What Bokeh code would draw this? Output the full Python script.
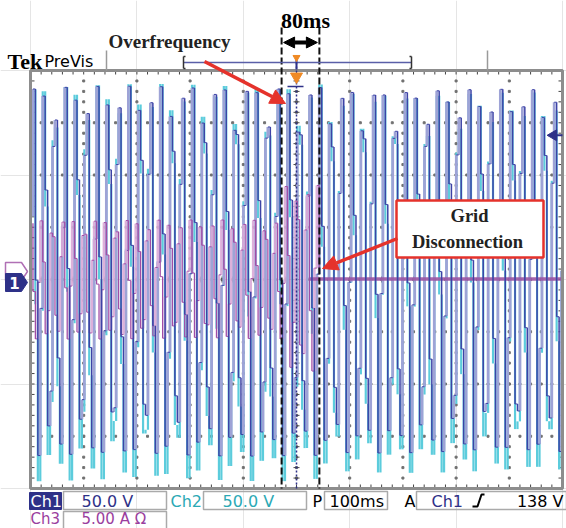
import numpy as np
from bokeh.plotting import figure
from bokeh.models import Range1d, Arrow, NormalHead
from bokeh.core.properties import value
from bokeh.embed import file_html
from bokeh.resources import INLINE

# ---------------- data ----------------
time_div_ms = 100              # 100 ms / div, 10 divisions
n_xdiv = 10
n_ydiv = 8
ch1_scale_v = 50.0             # V / div
ch2_scale_v = 50.0
ch3_scale_a = 5.0              # A / div
trigger_ms = 500
trigger_level_v = 138
overfreq_start_ms = 472
disconnect_ms = 543
segment_edges_ms = [0, 472, 543, 1000]
ch1_freq_hz = [50.0, 50.6, 50.0]
ch2_freq_hz = [50.0, 50.6, 50.0]
ch1_peak_v = [177, 177, 174]
ch1_offset_v = 8
ch2_peak_v = [190, 190, 182]
ch2_offset_v = -3
ch3_freq_hz = [50.0, 50.6, 50.0]
ch3_peak_a = [5.7, 9.0, 0.0]
ch3_offset_a = [0.0, 0.0, 0.05]
display_sample_ms = 4.6

ch_names = ["Ch1", "Ch2", "Ch3"]
ch_readouts = ["50.0 V", "50.0 V", "5.00 A \u03a9"]
timebase_label = "100ms"
trig_source = "Ch1"
trig_level_label = "138 V"

# ---------------- layout helpers (pixel -> data) ----------------
W, H = 566, 528
PL, PR, PT, PB = 30, 562, 70, 488
MS_PER_PX = n_xdiv * time_div_ms / (PR - PL)
DIV_PER_PX = n_ydiv / (PB - PT)
YC = (PT + PB) / 2


def X(px):
    return (px - PL) * MS_PER_PX


def Y(py):
    return (YC - py) * DIV_PER_PX


p = figure(width=W, height=H, x_range=Range1d(X(0), X(W)), y_range=Range1d(Y(H), Y(0)),
           output_backend="svg", toolbar_location=None, min_border=0,
           x_axis_location=None, y_axis_location=None)
p.outline_line_color = None
p.background_fill_color = "white"
p.border_fill_color = "white"
p.extra_y_ranges = {
    "v": Range1d(Y(H) * ch1_scale_v, Y(0) * ch1_scale_v),
    "v2": Range1d(Y(H) * ch2_scale_v, Y(0) * ch2_scale_v),
    "a": Range1d(Y(H) * ch3_scale_a, Y(0) * ch3_scale_a),
}

NAVY = "#2E3188"
DARKBLUE = "#3D43A6"
LIGHTBLUE = "#9EA3D6"
CYAN = "#5CCCDC"
MAG = "#A24DA6"
PINK = "#D9A8D7"
RED = "#E5322B"

T0 = 0
T1 = n_xdiv * time_div_ms

# ---------------- graticule ----------------
gx, gy = [], []
for k in range(1, n_xdiv):
    for j in np.arange(-n_ydiv / 2, n_ydiv / 2 + 0.01, 0.2):
        gx.append(k * time_div_ms)
        gy.append(j)
for j in range(-n_ydiv // 2 + 1, n_ydiv // 2):
    for k in np.arange(0, T1 + 0.01, time_div_ms / 5):
        gx.append(k)
        gy.append(j)
p.scatter(gx, gy, size=2, color="#707070", marker="square")

tick_px = 3
cx = T1 / 2
ys = np.arange(-n_ydiv / 2, n_ydiv / 2 + 0.01, 0.2)
xs = np.arange(0, T1 + 0.01, time_div_ms / 5)
p.segment(x0=[cx - tick_px * MS_PER_PX] * len(ys), x1=[cx + tick_px * MS_PER_PX] * len(ys),
          y0=list(ys), y1=list(ys), color="#444", line_width=1)
p.segment(x0=list(xs), x1=list(xs), y0=[-tick_px * DIV_PER_PX] * len(xs),
          y1=[tick_px * DIV_PER_PX] * len(xs), color="#444", line_width=1)
p.segment(x0=list(xs), x1=list(xs), y0=[n_ydiv / 2] * len(xs),
          y1=[n_ydiv / 2 - 4 * DIV_PER_PX] * len(xs), color="#444", line_width=1)
p.segment(x0=list(xs), x1=list(xs), y0=[-n_ydiv / 2] * len(xs),
          y1=[-n_ydiv / 2 + 4 * DIV_PER_PX] * len(xs), color="#444", line_width=1)
p.segment(x0=[0] * len(ys), x1=[4 * MS_PER_PX] * len(ys), y0=list(ys), y1=list(ys),
          color="#444", line_width=1)
p.segment(x0=[T1] * len(ys), x1=[T1 - 4 * MS_PER_PX] * len(ys), y0=list(ys), y1=list(ys),
          color="#444", line_width=1)


# ---------------- traces ----------------
def phase_at(t, freqs):
    ph = np.zeros_like(t)
    acc = 0.0
    for i in range(len(freqs)):
        a, b = segment_edges_ms[i], segment_edges_ms[i + 1]
        m = (t >= a) & (t <= b)
        ph[m] = acc + 2 * np.pi * freqs[i] * (t[m] - a) / 1000.0
        acc += 2 * np.pi * freqs[i] * (b - a) / 1000.0
    return ph


def seg_value(t, vals):
    out = np.zeros_like(t)
    for i in range(len(vals)):
        a, b = segment_edges_ms[i], segment_edges_ms[i + 1]
        out[(t >= a) & (t <= b)] = vals[i]
    return out


def step_parts(t, y):
    up = dict(x0=[], y0=[], x1=[], y1=[])
    dn = dict(x0=[], y0=[], x1=[], y1=[])
    hz = dict(x0=[], y0=[], x1=[], y1=[])
    for i in range(1, len(t)):
        d = up if y[i] > y[i - 1] else dn
        d["x0"].append(t[i]); d["x1"].append(t[i])
        d["y0"].append(y[i - 1]); d["y1"].append(y[i])
        if i < len(t) - 1:
            hz["x0"].append(t[i]); hz["x1"].append(t[i + 1])
            hz["y0"].append(y[i]); hz["y1"].append(y[i])
    return up, dn, hz


t = np.arange(T0, T1 + 0.001, display_sample_ms)
ch1 = ch1_offset_v + seg_value(t, ch1_peak_v) * np.sin(phase_at(t, ch1_freq_hz) + 0.3)
ch2 = ch2_offset_v + seg_value(t, ch2_peak_v) * np.sin(phase_at(t, ch2_freq_hz) + 0.36)
ch2 = np.clip(ch2, Y(PB - 2) * ch2_scale_v, Y(PT + 2) * ch2_scale_v)
ch1 = np.clip(ch1, Y(PB - 2) * ch1_scale_v, Y(PT + 2) * ch1_scale_v)

tm = t[t <= disconnect_ms]
ch3 = seg_value(tm, ch3_peak_a) * np.sin(phase_at(tm, ch3_freq_hz) + 1.9)

u2, d2, h2 = step_parts(t, ch2)
for d in (u2, d2):
    p.segment(**d, y_range_name="v2", color=CYAN, line_width=2.2)

u1, d1, h1 = step_parts(t, ch1)
p.segment(**u1, y_range_name="v", color=LIGHTBLUE, line_width=2.8)
p.segment(**h1, y_range_name="v", color=DARKBLUE, line_width=1.0)

u3, d3, h3 = step_parts(tm, ch3)
p.segment(**u3, y_range_name="a", color=PINK, line_width=2.6, alpha=0.9)
p.segment(**h3, y_range_name="a", color=MAG, line_width=1.0)
p.segment(**d3, y_range_name="a", color=MAG, line_width=1.3)
p.line([disconnect_ms - 20, T1], [ch3_offset_a[2], ch3_offset_a[2]], y_range_name="a",
       color="#9B55A3", line_width=3.4, alpha=0.9)

p.segment(**d1, y_range_name="v", color=DARKBLUE, line_width=1.5)

# plot border
p.rect(x=[T1 / 2], y=[0], width=T1, height=n_ydiv, fill_color=None,
       line_color="#8d8d8d", line_width=3)

# trigger position (dotted blue), cursor dashed lines
p.segment(x0=[trigger_ms], x1=[trigger_ms], y0=[Y(62)], y1=[-n_ydiv / 2],
          color=NAVY, line_width=1.5, line_dash="2 2")
p.segment(x0=[overfreq_start_ms, disconnect_ms], x1=[overfreq_start_ms, disconnect_ms],
          y0=[Y(27)] * 2, y1=[-n_ydiv / 2] * 2, color="#111", line_width=2, line_dash="7 3")
p.segment(x0=[X(287)], x1=[X(303)], y0=[Y(86)], y1=[Y(86)], color=NAVY, line_width=1.5)

# trigger markers
p.scatter([trigger_ms], [n_ydiv / 2 - 6 * DIV_PER_PX], marker="inverted_triangle", size=12,
          color="#F08A24")
p.scatter([X(553)], [trigger_level_v], y_range_name="v", marker="triangle", angle=np.pi / 2,
          size=11, color=NAVY)
p.segment(x0=[X(555)], x1=[T1], y0=[trigger_level_v], y1=[trigger_level_v], y_range_name="v",
          color=NAVY, line_width=2)


def pent(cx_px, cy_px):
    xs_ = [cx_px - 11, cx_px + 5, cx_px + 11, cx_px + 5, cx_px - 11]
    ys_ = [cy_px - 9, cy_px - 9, cy_px, cy_px + 9, cy_px + 9]
    return [X(v) for v in xs_], [Y(v) for v in ys_]


mx, my = pent(16, YC - 8)
p.patch(mx, my, fill_color="white", line_color="#B070B5", line_width=1.5)
mx, my = pent(16, YC + 3)
p.patch(mx, my, fill_color=NAVY, line_color=NAVY)
p.text([X(14)], [Y(YC + 3)], text=["1"], text_color="white", text_font=value("DejaVu Sans"),
       text_font_style="bold", text_font_size="15px", text_align="center", text_baseline="middle")

# ---------------- header ----------------
p.text([X(7)], [Y(61)], text=["Tek"], text_font=value("Liberation Serif"), text_font_style="bold",
       text_font_size="22px", text_baseline="middle", text_color="black")
p.text([X(44)], [Y(61)], text=["PreVis"], text_font=value("DejaVu Sans"),
       text_font_size="16px", text_baseline="middle", text_color="black")
p.segment(x0=[X(106), X(487)], x1=[X(106), X(487)], y0=[Y(50)] * 2, y1=[Y(70)] * 2,
          color="#9a9a9a", line_width=1.5)
p.segment(x0=[X(183)], x1=[X(411)], y0=[Y(62)], y1=[Y(62)], color="#5A5FA8", line_width=1.5)
p.segment(x0=[X(183), X(411)], x1=[X(183), X(411)], y0=[Y(56)] * 2, y1=[Y(68)] * 2,
          color="#333", line_width=1.5)
p.segment(x0=[X(183), X(183), X(409), X(409)], x1=[X(185), X(185), X(411), X(411)],
          y0=[Y(56), Y(68), Y(56), Y(68)], y1=[Y(56), Y(68), Y(56), Y(68)], color="#333", line_width=1.5)
p.segment(x0=[trigger_ms], x1=[trigger_ms], y0=[Y(55)], y1=[Y(69)], color=NAVY, line_width=2)
p.scatter([trigger_ms], [Y(57)], marker="inverted_triangle", size=7, color="#F08A24")

p.text([X(305)], [Y(20)], text=["80ms"], text_font=value("Liberation Serif"), text_font_style="bold",
       text_font_size="22px", text_align="center", text_baseline="middle", text_color="black")
p.add_layout(Arrow(start=NormalHead(size=11, fill_color="black", line_color="black"),
                   end=NormalHead(size=11, fill_color="black", line_color="black"),
                   x_start=overfreq_start_ms + 2 * MS_PER_PX, y_start=Y(42),
                   x_end=disconnect_ms - 2 * MS_PER_PX, y_end=Y(42),
                   line_color="black", line_width=4))
p.text([X(169)], [Y(41)], text=["Overfrequency"], text_font=value("Liberation Serif"),
       text_font_style="bold", text_font_size="19px", text_align="center", text_baseline="middle",
       text_color="#222")
p.add_layout(Arrow(end=NormalHead(size=15, fill_color=RED, line_color=RED),
                   x_start=X(204), y_start=Y(61), x_end=X(285), y_end=Y(103),
                   line_color=RED, line_width=3.5))

p.quad(left=[X(396)], right=[X(543)], top=[Y(200)], bottom=[Y(257)], fill_color="white",
       line_color=RED, line_width=2.5)
p.text([X(469)], [Y(215)], text=["Grid"], text_font=value("Liberation Serif"), text_font_style="bold",
       text_font_size="18.5px", text_align="center", text_baseline="middle", text_color="#222")
p.text([X(467)], [Y(241)], text=["Disconnection"], text_font=value("Liberation Serif"),
       text_font_style="bold", text_font_size="18.5px", text_align="center", text_baseline="middle",
       text_color="#222")
p.add_layout(Arrow(end=NormalHead(size=15, fill_color=RED, line_color=RED),
                   x_start=X(397), y_start=Y(238), x_end=X(322), y_end=Y(268),
                   line_color=RED, line_width=3.5))

# ---------------- bottom readouts ----------------
FONT = value("DejaVu Sans")
p.quad(left=[X(29)], right=[X(61)], top=[Y(492)], bottom=[Y(509)], fill_color=NAVY, line_color=NAVY)
boxes = [(63, 166, 491, 509), (203, 306, 491, 509), (324, 387, 491, 509), (416, 566, 491, 509),
         (63, 166, 511, 529)]
p.quad(left=[X(b[0]) for b in boxes], right=[X(b[1]) for b in boxes],
       top=[Y(b[2]) for b in boxes], bottom=[Y(b[3]) for b in boxes],
       fill_color=None, line_color="#aaaaaa", line_width=1.5)


def txt(px, py, s, color, align="left", size="16px"):
    p.text([X(px)], [Y(py)], text=[s], text_font=FONT, text_font_size=size, text_color=color,
           text_align=align, text_baseline="middle")


txt(30, 500.5, ch_names[0], "white")
txt(81, 500.5, ch_readouts[0], NAVY)
txt(170, 500.5, ch_names[1], "#2BA9B5")
txt(222, 500.5, ch_readouts[1], "#2BA9B5")
txt(312, 500.5, "P", "black")
txt(329, 500.5, timebase_label, "black")
txt(404, 500.5, "A", "black")
txt(431, 500.5, trig_source, NAVY)
txt(563, 500.5, trig_level_label, "black", align="right")
txt(30, 518.5, ch_names[2], "#9A3E9E", size="15px")
txt(81, 518.5, ch_readouts[2], "#9A3E9E", size="15px")
p.line([X(472), X(477), X(479), X(481), X(484)],
       [Y(506), Y(506), Y(500), Y(494), Y(494)], color="black", line_width=2)

open("out.html", "w").write(file_html(p, INLINE))
